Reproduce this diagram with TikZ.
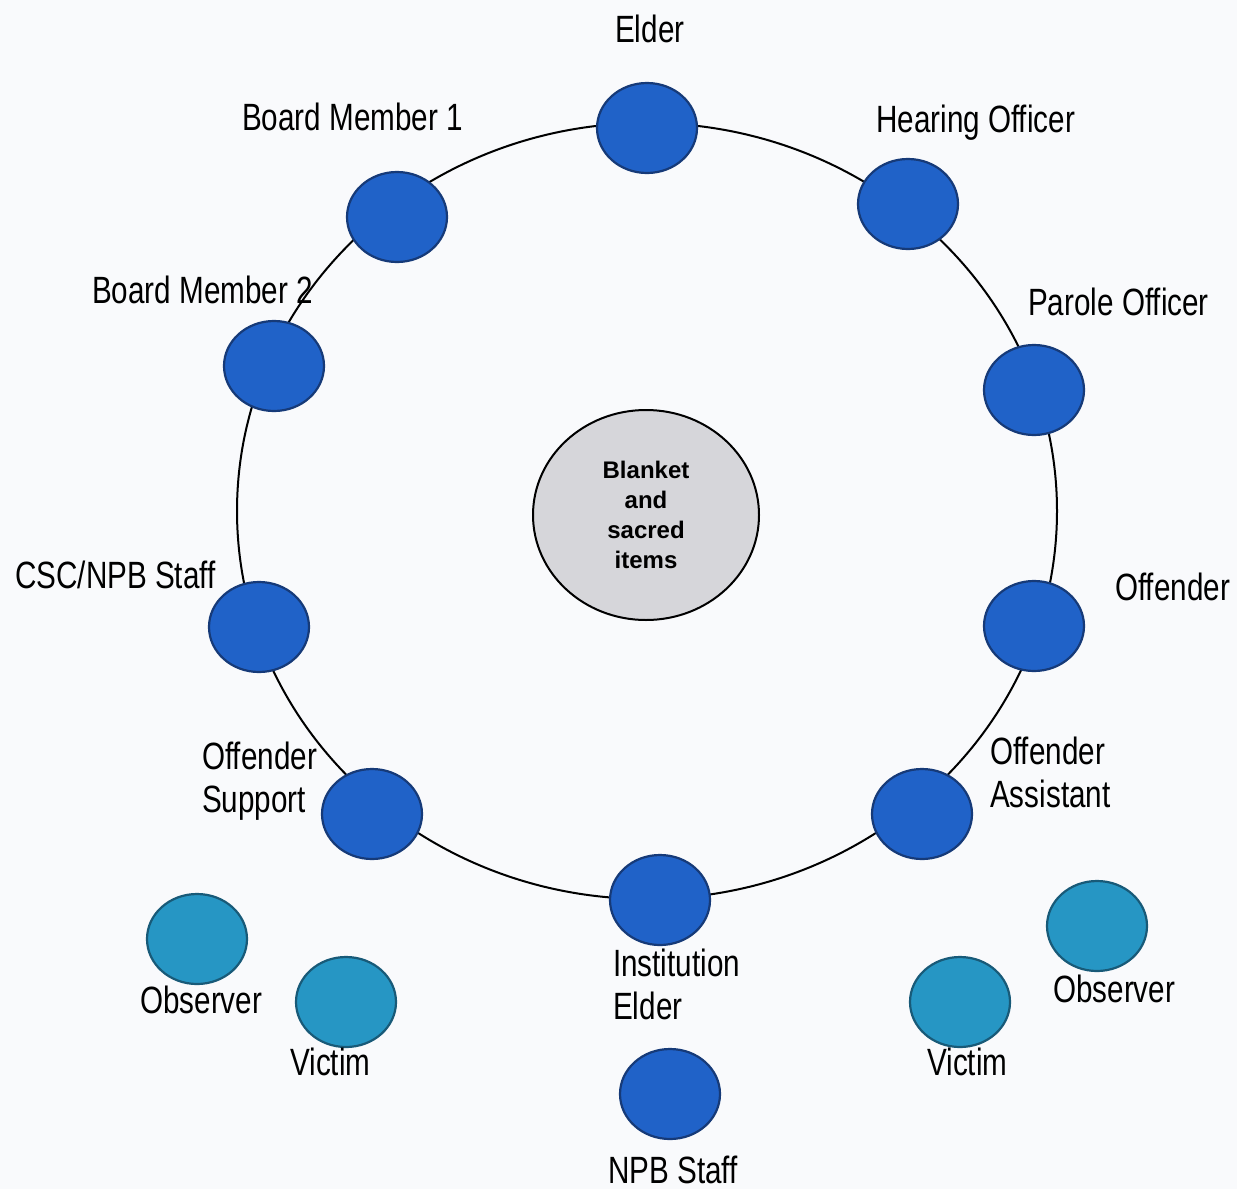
\documentclass[tikz,border=0pt]{standalone}
\usepackage{fontspec}
\setmainfont{Liberation Sans}
\newfontfamily\labfont[FakeStretch=0.78]{Liberation Sans}
\usetikzlibrary{shapes.geometric}
\definecolor{dotblue}{RGB}{32,98,200}
\definecolor{dotedge}{RGB}{22,58,120}
\definecolor{tealdot}{RGB}{38,150,196}
\definecolor{tealedge}{RGB}{24,90,120}
\definecolor{bgc}{RGB}{249,250,252}
\definecolor{centerfill}{RGB}{214,214,218}
\begin{document}
\begin{tikzpicture}[x=1pt,y=-1pt,
  member/.style={ellipse, fill=dotblue, draw=dotedge, line width=2.2pt,
    minimum width=100pt, minimum height=90pt, inner sep=0pt},
  guest/.style={member, fill=tealdot, draw=tealedge},
  lab/.style={font=\labfont\fontsize{38}{43}\selectfont, inner sep=0pt,
    anchor=base west},
  lab2/.style={font=\labfont\fontsize{38}{43}\selectfont, inner sep=0pt,
    anchor=north west, align=left},
  hub/.style={ellipse, fill=centerfill, draw=black, line width=2pt,
    minimum width=226pt, minimum height=210pt, inner sep=0pt, align=center,
    font=\bfseries\fontsize{24}{30}\selectfont}
]
\fill[bgc] (0,0) rectangle (1237,1189);
\useasboundingbox (0,0) rectangle (1237,1189);

% ring
\draw[line width=2pt] (647,511) ellipse [x radius=410pt, y radius=388pt];

% centre
\node[hub] (hub) at (646,515) {Blanket\\and\\sacred\\items};

% members on the ring
\node[member] (elder)   at (647,128) {};
\node[member] (hear)    at (908,204) {};
\node[member] (parole)  at (1034,390) {};
\node[member] (offender) at (1034,626) {};
\node[member] (offasst) at (922,814) {};
\node[member] (instel)  at (660,900) {};
\node[member] (offsup)  at (372,814) {};
\node[member] (csc)     at (259,627) {};
\node[member] (bmtwo)   at (274,366) {};
\node[member] (bmone)   at (397,217) {};
% outside the ring
\node[member] (npb)     at (670,1094) {};
\node[guest]  (obsL)    at (197,939) {};
\node[guest]  (vicL)    at (346,1002) {};
\node[guest]  (vicR)    at (960,1002) {};
\node[guest]  (obsR)    at (1097,926) {};

% labels
\node[lab] (lelder)  at (615,42)   {Elder};
\node[lab] (lhear)   at (876,132)  {Hearing Officer};
\node[lab] (lbmone)  at (242,130)  {Board Member 1};
\node[lab] (lbmtwo)  at (92,303)   {Board Member 2};
\node[lab] (lparole) at (1028,315) {Parole Officer};
\node[lab] (lcsc)    at (15,588)   {CSC/NPB Staff};
\node[lab] (loff)    at (1115,600) {Offender};
\node[lab2] (loffsup) at (202,742) {Offender\\Support};
\node[lab2] (loffass) at (990,737) {Offender\\Assistant};
\node[lab2] (linst)   at (613,949) {Institution\\Elder};
\node[lab] (lnpb)    at (608,1183) {NPB Staff};
\node[lab] (lobsL)   at (140,1013) {Observer};
\node[lab] (lvicL)   at (290,1075) {Victim};
\node[lab] (lvicR)   at (927,1075) {Victim};
\node[lab] (lobsR)   at (1053,1002) {Observer};
\end{tikzpicture}
\end{document}
